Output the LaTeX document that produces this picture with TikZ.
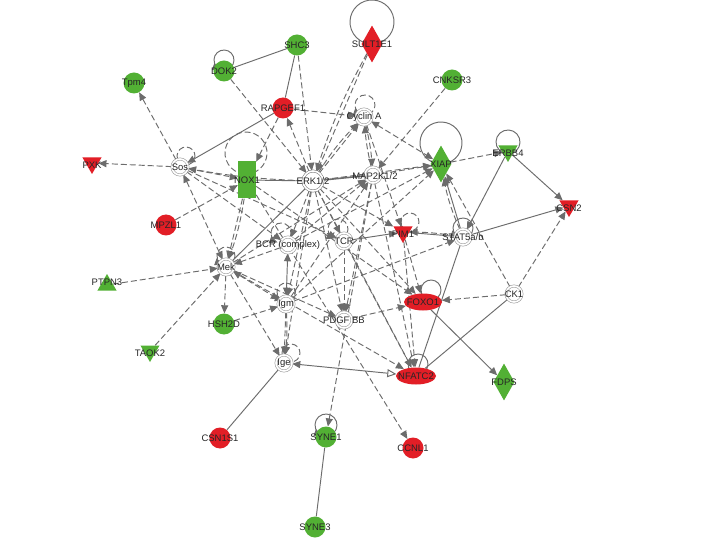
\documentclass[tikz,border=0pt]{standalone}
\usepackage{fontspec}
\setmainfont{Liberation Sans}
\usetikzlibrary{shapes.geometric,arrows.meta,backgrounds}
\definecolor{ipred}{RGB}{226,30,38}
\definecolor{ipgreen}{RGB}{82,176,52}
\definecolor{edgegray}{RGB}{108,108,108}
% #1 style, #2 name, #3 x, #4 y (screen), #5 text, #6 label options
\newcommand\mknode[6]{\node[#1] (#2) at (#3,-#4) {};\node[lbl,#6] (#2-t) at (#2.center) {#5};}
% #1 style, #2 node, #3 dx, #4 dy (up), #5 radius
\newcommand\selfloop[5]{\draw[#1] ([shift={(#3,#4)}]#2.center) ++(-70:#5) arc[start angle=-70,end angle=250,radius=#5];}
\begin{document}
\begin{tikzpicture}[x=1bp,y=1bp,
 lbl/.style={font=\fontsize{9.5}{10}\selectfont,text=black!85,inner sep=0},
 gc/.style={circle,fill=ipgreen,minimum size=21bp,inner sep=0},
 rc/.style={circle,fill=ipred,minimum size=21bp,inner sep=0},
 wn/.style={circle,draw=gray!75,double=white,double distance=1.6bp,line width=0.6bp,fill=white,minimum size=16bp,inner sep=0},
 tdown/.style={regular polygon,regular polygon sides=3,shape border rotate=180,minimum size=22bp,inner sep=0},
 tup/.style={regular polygon,regular polygon sides=3,minimum size=22bp,inner sep=0},
 dmd/.style={diamond,minimum width=21bp,minimum height=37bp,inner sep=0},
 ell/.style={ellipse,minimum width=38bp,minimum height=17bp,inner sep=0},
 sl/.style={draw=edgegray,line width=0.95bp},
 sa/.style={sl,-{Triangle[length=8bp,width=7bp]}},
 dl/.style={sl,dash pattern=on 6bp off 3bp},
 da/.style={dl,-{Triangle[length=8bp,width=7bp]}},
 dd/.style={dl,{Triangle[length=8bp,width=7bp]}-{Triangle[length=8bp,width=7bp]}},
]
\useasboundingbox (0,0) rectangle (720,-540);
\begin{scope}[on background layer]
\fill[white] (0,0) rectangle (720,-540);
\end{scope}
% nodes
\mknode{dmd,fill=ipred}{sult}{372}{44}{SULT1E1}{}
\mknode{gc}{shc3}{297}{45}{SHC3}{}
\mknode{gc}{dok2}{224}{71}{DOK2}{}
\mknode{gc}{tpm4}{134}{83}{Tpm4}{}
\mknode{gc}{cnksr3}{452}{80}{CNKSR3}{}
\mknode{rc}{rapgef1}{283}{108}{RAPGEF1}{}
\mknode{wn}{cyca}{364}{117}{Cyclin A}{}
\mknode{tdown,fill=ipred}{pxk}{92}{163}{PXK}{yshift=-2bp}
\mknode{wn}{sos}{180}{167}{Sos}{}
\mknode{rectangle,fill=ipgreen,minimum width=18bp,minimum height=37bp,inner sep=0}{nox1}{247}{180}{NOX1}{}
\mknode{wn,minimum size=20bp,draw=gray}{erk}{313}{181}{ERK1/2}{}
\mknode{wn}{map2k}{373}{175}{MAP2K1/2}{xshift=2bp,yshift=-1bp}
\mknode{dmd,fill=ipgreen}{xiap}{441}{164}{XIAP}{}
\mknode{tdown,fill=ipgreen}{erbb4}{508}{151}{ERBB4}{yshift=-2bp}
\mknode{tdown,fill=ipred}{csn2}{569}{206}{CSN2}{yshift=-2bp}
\mknode{rc}{mpzl1}{166}{225}{MPZL1}{}
\mknode{wn}{bcr}{288}{245}{BCR (complex)}{}
\mknode{wn}{tcr}{344}{241}{TCR}{}
\mknode{tdown,fill=ipred}{pim1}{403}{232}{PIM1}{yshift=-2bp}
\mknode{wn}{stat5}{463}{237}{STAT5a/b}{}
\mknode{wn}{mek}{226}{267}{Mek}{}
\mknode{tup,fill=ipgreen}{ptpn3}{107}{285}{PTPN3}{yshift=3bp}
\mknode{wn}{igm}{286}{304}{Igm}{}
\mknode{wn}{pdgf}{344}{320}{PDGF BB}{}
\mknode{ell,fill=ipred}{foxo1}{423}{302}{FOXO1}{}
\mknode{wn}{ck1}{514}{294}{CK1}{}
\mknode{gc}{hsh2d}{224}{324}{HSH2D}{}
\mknode{tdown,fill=ipgreen}{taok2}{150}{351}{TAOK2}{yshift=-2bp}
\mknode{wn}{ige}{284}{363}{Ige}{}
\mknode{ell,fill=ipred,minimum width=40bp}{nfatc2}{416}{376}{NFATC2}{}
\mknode{dmd,fill=ipgreen}{fdps}{504}{382}{FDPS}{}
\mknode{rc}{csn1s1}{220}{438}{CSN1S1}{}
\mknode{gc}{syne1}{326}{437}{SYNE1}{}
\mknode{rc}{ccnl1}{413}{448}{CCNL1}{}
\mknode{gc}{syne3}{315}{527}{SYNE3}{}
% edges
\begin{scope}[on background layer]
% solid
\draw[sl] (shc3) -- (dok2);
\draw[sl] (shc3) -- (rapgef1);
\draw[sa] (rapgef1) -- (sos);
\draw[sl,line width=1.6bp] (erk) -- (map2k);
\draw[sl] (nox1) -- (erk);
\draw[sl] (erk) -- (mek);
\draw[sl,{Triangle[length=8bp,width=7bp]}-{Triangle[length=8bp,width=7bp]}] (bcr) -- (igm);
\draw[sa] (tcr) -- (pim1);
\draw[sl] (pim1) -- (stat5);
\draw[sa] (stat5) -- (csn2);
\draw[sa] (erbb4) -- (csn2);
\draw[sa] (erbb4) -- (stat5);
\draw[sa] (stat5) -- (xiap);
\draw[sl] (stat5) -- (nfatc2);
\draw[sl] (ck1) -- (nfatc2);
\draw[sl,{Triangle[open,length=9bp,width=8bp]}-{Triangle[length=8bp,width=7bp]}] (nfatc2) -- (ige);
\draw[sl] (ige) -- (csn1s1);
\draw[sl] (syne1) -- (syne3);
\draw[sa] (foxo1) -- (fdps);
% dashed
\draw[da] (sos) -- (tpm4);
\draw[da] (sos) -- (pxk);
\draw[da] (sos) -- (nox1);
\draw[da] (erk) to[bend left=4] (sos);
\draw[da] (sos) -- (bcr);
\draw[dd] (sos) -- (mek);
\draw[da] (sos) -- (tcr);
\draw[da] (dok2) -- (erk);
\draw[da] (shc3) -- (erk);
\draw[da] (sult) -- (erk);
\draw[da] (sult) to[bend right=5] (erk);
\draw[da] (rapgef1) -- (cyca);
\draw[da] (erk) -- (rapgef1);
\draw[da] (rapgef1) -- (nox1);
\draw[da] (erk) -- (cyca);
\draw[da] (erk) to[bend left=6] (cyca);
\draw[da] (map2k) to[bend left=4] (cyca);
\draw[da] (cyca) to[bend left=4] (map2k);
\draw[dd] (cyca) -- (xiap);
\draw[da] (cnksr3) -- (map2k);
\draw[da] (map2k) -- (xiap);
\draw[da] (erk) -- (xiap);
\draw[da] (xiap) -- (erbb4);
\draw[da] (mpzl1) -- (nox1);
\draw[da] (ptpn3) -- (mek);
\draw[da] (taok2) -- (mek);
\draw[da] (mek) -- (hsh2d);
\draw[da] (hsh2d) -- (igm);
\draw[dd] (mek) -- (igm);
\draw[da] (mek) -- (ige);
\draw[da] (mek) -- (pdgf);
\draw[da] (nox1) -- (mek);
\draw[da] (nox1) to[bend left=5] (mek);
\draw[da] (bcr) -- (mek);
\draw[da] (erk) -- (bcr);
\draw[da] (erk) -- (igm);
\draw[da] (erk) -- (ige);
\draw[da] (erk) -- (pdgf);
\draw[da] (erk) -- (foxo1);
\draw[da] (erk) -- (pim1);
\draw[da] (erk) -- (nfatc2);
\draw[da] (erk) -- (tcr);
\draw[da] (tcr) -- (pdgf);
\draw[da] (pdgf) -- (foxo1);
\draw[da] (igm) -- (stat5);
\draw[da] (igm) -- (map2k);
\draw[da] (mek) -- (nfatc2);
\draw[da] (pim1) -- (foxo1);
\draw[da] (pim1) -- (nfatc2);
\draw[da] (stat5) to[bend right=4] (pim1);
\draw[da] (stat5) to[bend left=6] (xiap);
\draw[da] (ck1) -- (xiap);
\draw[da] (ck1) -- (csn2);
\draw[da] (ck1) -- (foxo1);
\draw[da] (map2k) -- (syne1);
\draw[da] (nox1) -- (ccnl1);
\draw[da] (cyca) -- (pim1);
\draw[da] (bcr) -- (xiap);
\draw[da] (igm) -- (xiap);
\draw[da] (mek) -- (map2k);
\draw[da] (bcr) -- (map2k);
\draw[da] (igm) -- (ige);
\draw[da] (igm) to[bend left=5] (ige);
\draw[da] (nox1) -- (foxo1);
\draw[da] (map2k) -- (nfatc2);
\draw[da] (tcr) -- (nfatc2);
\draw[da] (map2k) -- (pdgf);
% self loops
\selfloop{sa}{dok2}{0}{11}{10}
\selfloop{sl}{sult}{0}{22}{22}
\selfloop{sl}{xiap}{0}{21}{21}
\selfloop{sl}{erbb4}{0}{9}{12}
\selfloop{sl,-{Triangle[open,length=9bp,width=8bp]}}{stat5}{0}{9}{10}
\selfloop{sa}{foxo1}{8}{12}{10}
\selfloop{sa}{nfatc2}{2}{12}{10}
\selfloop{sa}{syne1}{0}{12}{11}
\selfloop{da}{sos}{6}{11}{9}
\selfloop{dl}{nox1}{-1}{27}{21}
\selfloop{da}{cyca}{1}{12}{10}
\selfloop{da}{bcr}{-7}{12}{10}
\selfloop{da}{tcr}{-6}{12}{10}
\selfloop{da}{pim1}{7}{10}{9}
\selfloop{da}{mek}{0}{11}{9}
\selfloop{da}{igm}{0}{12}{9}
\selfloop{da}{ige}{7}{10}{9}
\end{scope}
\end{tikzpicture}
\end{document}
